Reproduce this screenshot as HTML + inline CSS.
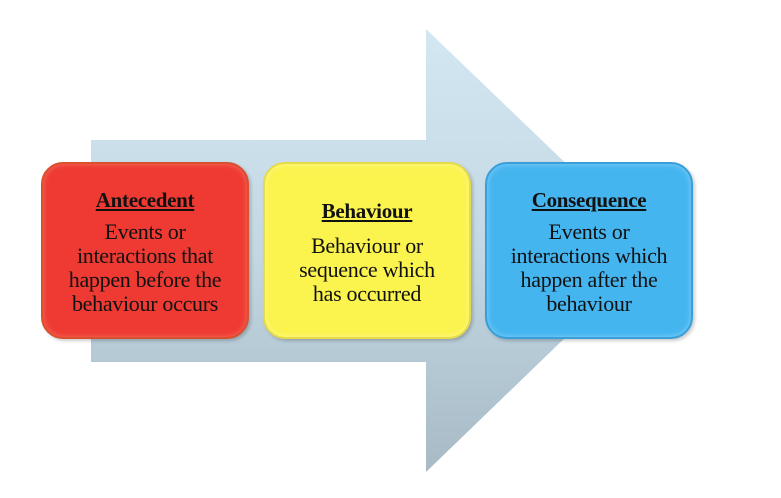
<!DOCTYPE html>
<html><head><meta charset="utf-8"><style>
html,body{margin:0;padding:0;background:#fff;}
#w{position:relative;width:781px;height:498px;overflow:hidden;background:#fff;}
svg{position:absolute;left:0;top:0;}
.b{position:absolute;top:162px;width:208px;height:177px;border-radius:22px;box-sizing:border-box;
font-family:"Liberation Serif",serif;color:#111;text-align:center;font-size:22px;line-height:24px;letter-spacing:-0.3px;}
.b .t{font-weight:bold;text-decoration:underline;font-size:21px;margin-bottom:8px;}
#r{left:41px;background:#ee3a33;border:2px solid #d9502f;box-shadow:inset 0 0 6px rgba(255,150,120,.6),2px 2px 3px rgba(0,0,0,.2);padding-top:24px;}
#y{left:263px;background:#fbf34e;border:2px solid #e6d94a;box-shadow:inset 0 0 6px rgba(255,255,200,.6),2px 2px 3px rgba(0,0,0,.2);padding-top:35px;}
#u{left:485px;background:#45b5f0;border:2px solid #3a9fd8;box-shadow:inset 0 0 6px rgba(180,230,255,.6),2px 2px 3px rgba(0,0,0,.2);padding-top:24px;}
</style></head><body><div id="w">
<svg width="781" height="498"><defs><linearGradient id="g" x1="0" y1="0" x2="0" y2="1">
<stop offset="0" stop-color="#d3e7f2"/><stop offset="0.5" stop-color="#c3d8e3"/><stop offset="1" stop-color="#a7bac6"/></linearGradient></defs>
<polygon points="91,140 426,140 426,29 656,250 426,472 426,362 91,362" fill="url(#g)"/></svg>
<div class="b" id="r"><div class="t">Antecedent</div>Events or<br>interactions that<br>happen before the<br>behaviour occurs</div>
<div class="b" id="y"><div class="t" style="margin-bottom:11px">Behaviour</div>Behaviour or<br>sequence which<br>has occurred</div>
<div class="b" id="u"><div class="t">Consequence</div>Events or<br>interactions which<br>happen after the<br>behaviour</div>
</div></body></html>
